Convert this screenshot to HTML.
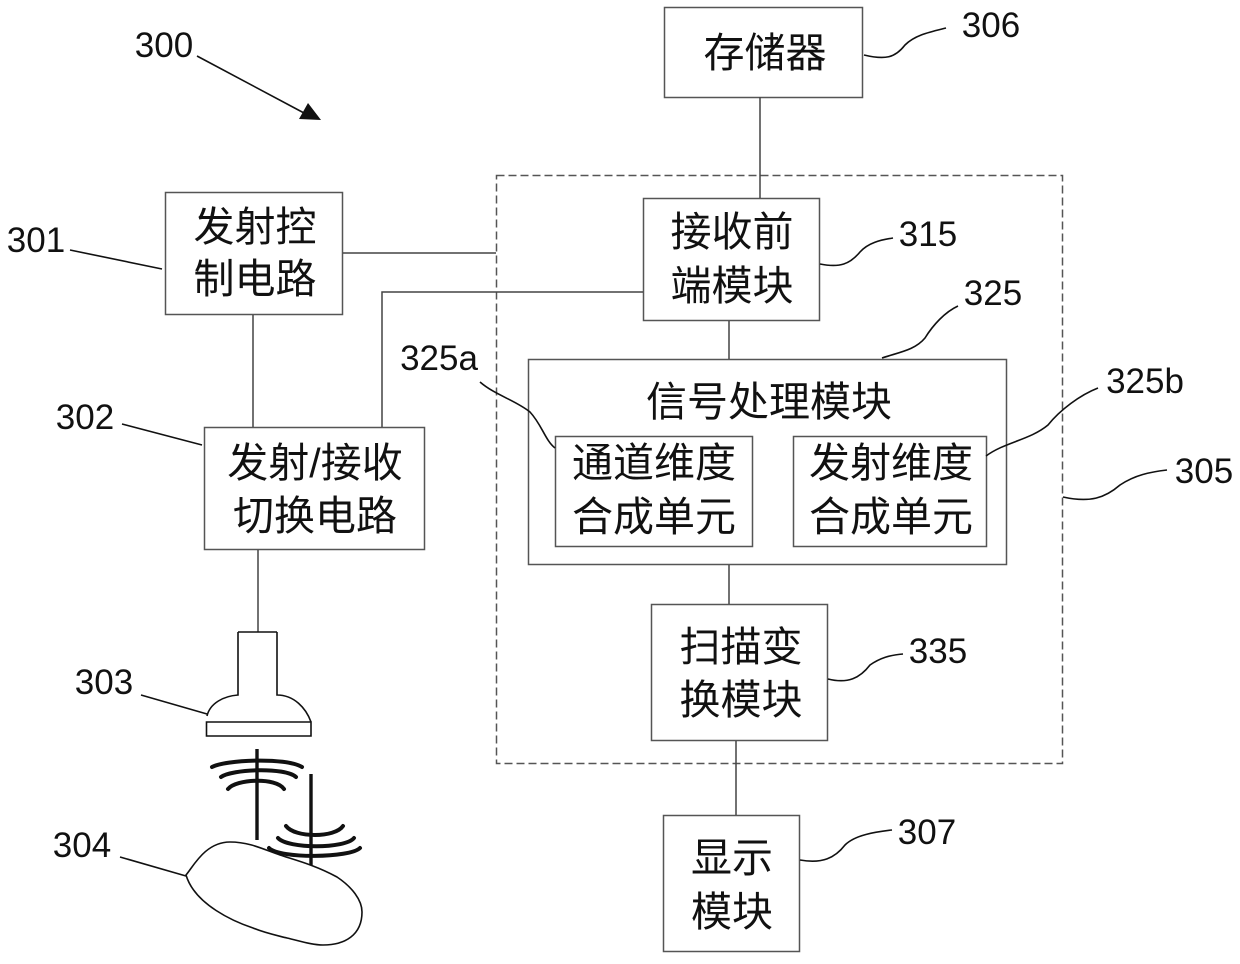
<!DOCTYPE html>
<html><head><meta charset="utf-8"><style>
html,body{margin:0;padding:0;background:#fff;width:1240px;height:964px;overflow:hidden}
svg{display:block}
.c{font-family:"Liberation Sans","Noto Sans CJK SC",sans-serif;font-size:41px;fill:#111;text-anchor:middle}
.n{font-family:"Liberation Sans",sans-serif;font-size:35px;fill:#111;text-anchor:middle}
.b{fill:none;stroke:#555;stroke-width:1.5}
.l{fill:none;stroke:#444;stroke-width:1.5}
.k{fill:none;stroke:#111;stroke-width:1.6}
.w{fill:none;stroke:#111;stroke-width:4;stroke-linecap:round}
</style></head><body>
<svg width="1240" height="964" viewBox="0 0 1240 964" xmlns="http://www.w3.org/2000/svg">
<!-- boxes -->
<rect class="b" x="664.5" y="7.5" width="198" height="90"/>
<rect class="b" x="165.5" y="192.5" width="177" height="122"/>
<rect class="b" x="204.5" y="427.5" width="220" height="122"/>
<rect class="b" x="643.5" y="198.5" width="176" height="122"/>
<rect class="b" x="528.5" y="359.5" width="478" height="205"/>
<rect class="b" x="555.5" y="436.5" width="197" height="110"/>
<rect class="b" x="793.5" y="436.5" width="193" height="110"/>
<rect class="b" x="651.5" y="604.5" width="176" height="136"/>
<rect class="b" x="663.5" y="815.5" width="136" height="136"/>
<rect x="496.5" y="175.5" width="566" height="588" fill="none" stroke="#555" stroke-width="1.5" stroke-dasharray="8 4"/>
<!-- connectors -->
<path class="l" d="M760 97V198M343 253H496M643 292H382V427M253 315V427M729 321V359M729 565V604M736 741V815M258 550V632"/>
<!-- probe -->
<path class="k" d="M238 632H277M238 632V695C224 696 210 703 207 716M277 632V695C294 695 306 708 311 722M206.500 722H311V736H206.500Z"/>
<!-- waves -->
<path d="M257 749V840M311 774V865" fill="none" stroke="#111" stroke-width="3.4"/>
<path class="w" d="M212 767C225 760 285 757 302 767M221 777C232 769 285 767 296 777M228 789C236 779 276 777 284 789M286 826C295 838 335 838 343 826M278 838C288 849 345 849 354 838M269 848C280 859 350 858 360 848"/>
<!-- organ -->
<path class="k" d="M186 875C193 867 205 842 230 842C250 842 265 850 280 855C295 860 315 865 337 877C352 887 362 900 362 912C362 935 345 945 323 945C312 945 300 941 287 938C275 935 265 933 253 928C235 922 195 905 186 875Z"/>
<!-- leaders -->
<path class="k" d="M197 56L304 113"/>
<path d="M321 120L299 119L308 103Z" fill="#111"/>
<path class="k" d="M70 250L162 269M122 424L202 445M141 695L207 714M120 857L186 876"/>
<path class="k" d="M864 55C885 60 895 58 905 45C915 35 930 32 946 28"/>
<path class="k" d="M820 264C840 268 850 264 860 252C868 243 880 240 893 238"/>
<path class="k" d="M882 358C900 352 915 350 925 338C933 325 945 312 958 306"/>
<path class="k" d="M480 382C495 395 515 400 530 412C542 425 545 440 555 448"/>
<path class="k" d="M986 456C1005 442 1030 440 1048 425C1060 410 1080 395 1098 388"/>
<path class="k" d="M1063 497C1090 503 1105 498 1120 485C1135 475 1150 472 1167 470"/>
<path class="k" d="M828 679C848 684 860 678 870 665C880 658 890 655 903 654"/>
<path class="k" d="M800 860C822 864 835 858 845 845C855 835 875 832 892 830"/>
<!-- chinese labels -->
<text class="c" x="765" y="67">存储器</text>
<text class="c" x="255" y="241">发射控</text>
<text class="c" x="255" y="293">制电路</text>
<text class="c" x="315" y="477">发射/接收</text>
<text class="c" x="315" y="530">切换电路</text>
<text class="c" x="732" y="246">接收前</text>
<text class="c" x="732" y="300">端模块</text>
<text class="c" x="769" y="416">信号处理模块</text>
<text class="c" x="654" y="477">通道维度</text>
<text class="c" x="654" y="531">合成单元</text>
<text class="c" x="891" y="477">发射维度</text>
<text class="c" x="891" y="531">合成单元</text>
<text class="c" x="741" y="661">扫描变</text>
<text class="c" x="741" y="714">换模块</text>
<text class="c" x="732" y="872">显示</text>
<text class="c" x="732" y="926">模块</text>
<!-- numerals -->
<text class="n" x="164" y="57">300</text>
<text class="n" x="991" y="37">306</text>
<text class="n" x="36" y="252">301</text>
<text class="n" x="928" y="246">315</text>
<text class="n" x="993" y="305">325</text>
<text class="n" x="439" y="370">325a</text>
<text class="n" x="1145" y="393">325b</text>
<text class="n" x="85" y="429">302</text>
<text class="n" x="1204" y="483">305</text>
<text class="n" x="938" y="663">335</text>
<text class="n" x="104" y="694">303</text>
<text class="n" x="82" y="857">304</text>
<text class="n" x="927" y="844">307</text>
</svg>
</body></html>
